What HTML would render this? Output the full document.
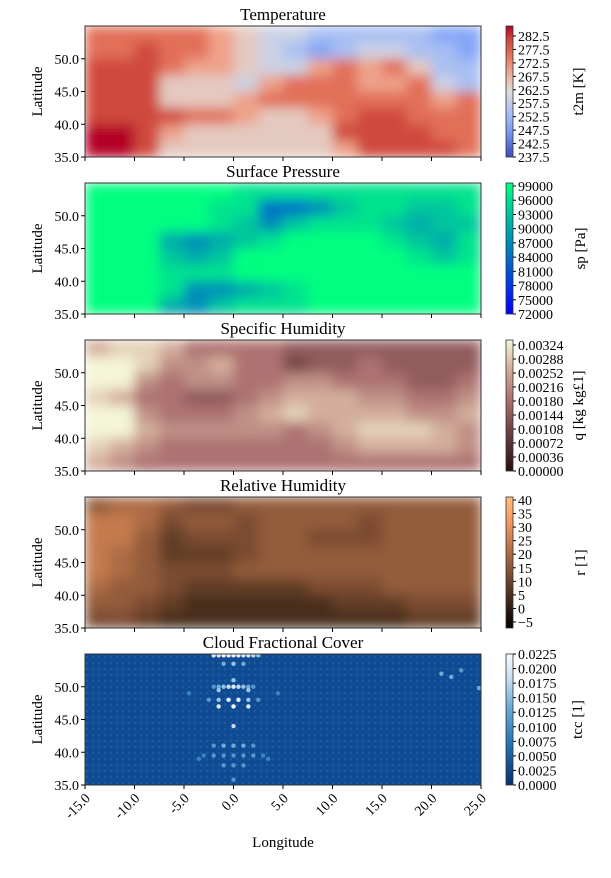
<!DOCTYPE html>
<html><head><meta charset="utf-8"><style>
body{margin:0;background:#fff;}
svg text{font-family:"Liberation Serif",serif;fill:#000;}
</style></head><body>
<svg id="fig" width="611" height="873" viewBox="0 0 611 873">
<defs>
<filter id="blur" x="0" y="0" width="1" height="1"><feGaussianBlur stdDeviation="6" edgeMode="duplicate"/></filter>
<pattern id="dots" width="6" height="6" patternUnits="userSpaceOnUse"><circle cx="3" cy="3" r="1.4" fill="#2a68ad" opacity="0.5"/></pattern>
</defs>
</svg>
<script>
// ---- data ----
const lonTicks=[-15,-10,-5,0,5,10,15,20,25];
const latTicks=[35,40,45,50];
const titles=["Temperature","Surface Pressure","Specific Humidity","Relative Humidity","Cloud Fractional Cover"];
const cbarLabels=["t2m [K]","sp [Pa]","q [kg kg\u00a31]","r [1]","tcc [1]"];
const tTicks=["282.5","277.5","272.5","267.5","262.5","257.5","252.5","247.5","242.5","237.5"];
const spTicks=["99000","96000","93000","90000","87000","84000","81000","78000","75000","72000"];
const qTicks=["0.00324","0.00288","0.00252","0.00216","0.00180","0.00144","0.00108","0.00072","0.00036","0.00000"];
const rTicks=["40","35","30","25","20","15","10","5","0","\u22125"];
const tccTicks=["0.0225","0.0200","0.0175","0.0150","0.0125","0.0100","0.0075","0.0050","0.0025","0.0000"];
const tGrid=[
[7,7,7,7,7,6,5,4,4,3,3,3,3,3,2,2],
[7,7,8,7,7,6,5,4,3,2,3,4,4,3,3,2],
[8,8,8,7,6,6,5,4,4,6,7,6,7,5,3,3],
[8,8,8,5,5,5,4,6,7,7,7,6,6,7,4,3],
[8,8,8,5,5,5,6,7,7,7,7,7,7,7,6,7],
[8,8,8,8,7,7,6,5,5,6,7,8,8,7,7,7],
[9,9,8,6,5,5,5,5,5,5,8,8,8,8,7,7],
[9,9,8,5,5,5,5,5,5,5,6,8,8,8,8,7]];
const spGrid=[
[9,9,9,9,9,9,8,8,8,8,8,8,8,8,8,8],
[9,9,9,9,9,8,8,4,4,5,7,8,8,7,7,8],
[9,9,9,9,9,8,7,5,7,8,8,8,7,6,7,7],
[9,9,9,6,5,6,7,8,9,9,9,9,8,7,6,8],
[9,9,9,7,6,7,9,9,9,9,9,9,9,8,7,8],
[9,9,9,8,8,8,9,9,9,9,9,9,9,9,9,9],
[9,9,9,8,5,5,6,7,8,9,9,9,9,9,9,9],
[9,9,9,6,5,7,8,8,8,9,9,9,9,9,9,9]];
const qGrid=[
[7,8,8,7,5,5,5,5,4,4,4,4,4,4,4,4],
[9,9,8,6,6,7,5,5,3,4,4,5,4,4,4,4],
[9,9,6,5,6,6,5,5,6,6,5,5,5,4,4,5],
[8,7,5,5,4,4,5,6,7,7,7,6,6,5,5,6],
[9,9,6,5,5,5,6,7,8,7,7,7,7,6,6,7],
[9,9,7,6,6,6,6,6,5,6,7,8,8,8,7,6],
[8,7,6,5,5,5,5,5,5,5,6,7,7,7,7,6],
[7,6,5,5,5,5,5,5,5,5,5,5,5,5,5,5]];
const rGrid=[
[6,7,7,6,5,5,6,6,6,6,6,6,6,6,6,6],
[8,8,7,5,6,6,5,6,6,6,6,5,6,6,6,6],
[8,8,6,4,5,5,5,6,6,5,5,5,6,6,6,6],
[8,7,6,4,4,4,5,6,6,6,6,6,6,6,6,6],
[8,7,6,5,5,5,6,6,6,6,6,6,6,6,6,6],
[7,6,6,5,4,4,4,4,4,5,5,5,6,6,6,6],
[6,6,5,4,3,3,3,3,3,3,4,4,4,5,5,5],
[5,5,4,3,3,3,3,3,3,3,3,3,3,4,4,4]];
const cloudLon=[-2,-1.5,-1,-0.5,0,0.5,1,1.5,2,2.5,-1,0,1,-2,-1.5,-1,-0.5,0,0.5,1,1.5,2,-2.5,-1.5,-0.5,0.5,1.5,2.5,-1.5,0,1.5,0,-2,-1,0,1,2,-3,-2,-1,0,1,2,3,-1,0,1,0,-1.5,1.5,0,-4.5,4.5,-3.5,3.5,21,22,23,24.8];
const cloudLat=[54.8,54.8,54.8,54.8,54.8,54.8,54.8,54.8,54.8,54.8,53.5,53.5,53.5,50,50,50,50,50,50,50,50,50,48,48,48,48,48,48,47,47,47,44,41,41,41,41,41,39.5,39.5,39.5,39.5,39.5,39.5,39.5,38,38,38,35.8,49.5,49.5,51,49,49,39,39,52,51.5,52.5,49.8];
const cloudVal=[0.9,0.9,1,1,1,1,0.9,0.9,0.8,0.7,0.6,0.7,0.6,0.5,0.6,0.7,0.8,0.9,0.8,0.7,0.6,0.5,0.5,0.7,0.9,0.9,0.7,0.5,0.9,1,0.9,0.8,0.5,0.6,0.6,0.6,0.5,0.4,0.5,0.5,0.5,0.5,0.5,0.4,0.5,0.5,0.5,0.5,0.7,0.7,0.7,0.4,0.4,0.4,0.4,0.6,0.6,0.5,0.6];

// ---- layout ----
const X0=85,X1=481,PH=131;
const panelTops=[26,183,340,497,654];
const CBX=506,CBW=7;
const svg=document.getElementById('fig');
const NS='http://www.w3.org/2000/svg';
function mk(tag,attrs,parent){const e=document.createElementNS(NS,tag);for(const k in attrs)e.setAttribute(k,attrs[k]);(parent||svg).appendChild(e);return e;}
const xScale=lon=>X0+(lon+15)/40*(X1-X0);
const yScale=(lat,top)=>top+PH-(lat-35)/20*PH;

function lerpStops(stops,t){t=Math.max(0,Math.min(1,t));for(let i=1;i<stops.length;i++){if(t<=stops[i][0]){const a=stops[i-1],b=stops[i],f=(t-a[0])/(b[0]-a[0]);return 'rgb('+[1,2,3].map(j=>Math.round(a[j]+(b[j]-a[j])*f)).join(',')+')';}}const s=stops[stops.length-1];return 'rgb('+s[1]+','+s[2]+','+s[3]+')';}
const cmaps=[
[[0,59,76,192],[0.25,141,176,254],[0.5,221,220,220],[0.65,240,170,145],[0.78,226,110,88],[0.9,205,70,58],[1,180,4,38]],
[[0,0,0,255],[1,0,255,128]],
[[0,40,15,15],[0.3,110,65,65],[0.55,172,112,112],[0.8,215,180,160],[1,245,245,215]],
[[0,0,0,0],[0.8,255,159,102],[1,255,199,127]],
[[0,8,48,107],[0.3,33,113,181],[0.6,107,174,214],[0.8,198,219,239],[1,247,251,255]]];
const cmapScale=[9,9,9,13,1];
const grids=[tGrid,spGrid,qGrid,rGrid];
const tickSets=[tTicks,spTicks,qTicks,rTicks,tccTicks];

panelTops.forEach((top,p)=>{
  const clip=mk('clipPath',{id:'clip'+p},svg.querySelector('defs'));
  mk('rect',{x:X0,y:top,width:X1-X0,height:PH},clip);
  const g=mk('g',{'clip-path':'url(#clip'+p+')'});
  
  
  if(p<4){
    const grid=grids[p];
    const bg=mk('g',{filter:'url(#blur)'},g);
    const cw=(X1-X0)/grid[0].length,ch=PH/grid.length;
    grid.forEach((row,r)=>row.forEach((v,c)=>{
      const cell=mk('rect',{x:X0+c*cw,y:top+r*ch,width:cw+0.5,height:ch+0.5,fill:lerpStops(cmaps[p],v/cmapScale[p])},bg);
      
      
    }));
  } else {
    mk('rect',{x:X0,y:top,width:X1-X0,height:PH,fill:'#0f4a92'},g);
    mk('rect',{x:X0,y:top,width:X1-X0,height:PH,fill:'url(#dots)'},g);
    cloudLon.forEach((lon,i)=>{
      const d=mk('circle',{cx:xScale(lon),cy:yScale(cloudLat[i],top),r:2.2,fill:lerpStops(cmaps[4],cloudVal[i])},g);
      
      
    });
  }
  const frame=mk('rect',{x:X0,y:top,width:X1-X0,height:PH,fill:'none',stroke:'#333','stroke-width':1});
  
  
  const t=mk('text',{x:(X0+X1)/2,y:top-6,'text-anchor':'middle','font-size':17});
  t.textContent=titles[p];
  
  
  const yl=mk('text',{x:0,y:0,'text-anchor':'middle','font-size':15,transform:'translate(42,'+(top+PH/2)+') rotate(-90)'});
  yl.textContent='Latitude';
  
  
  latTicks.forEach(lat=>{
    const y=yScale(lat,top);
    mk('line',{x1:X0-4,x2:X0,y1:y,y2:y,stroke:'#000'});
    const tl=mk('text',{x:X0-6,y:y+5,'text-anchor':'end','font-size':14});
    tl.textContent=lat.toFixed(1);
    
    
  });
  lonTicks.forEach(lon=>{
    const x=xScale(lon);
    mk('line',{x1:x,x2:x,y1:top+PH,y2:top+PH+4,stroke:'#000'});
    if(p===4){
      const xl=mk('text',{x:0,y:0,'text-anchor':'end','font-size':14,transform:'translate('+(x+6)+','+(top+PH+14)+') rotate(-45)'});
      xl.textContent=lon.toFixed(1);
      
      
    }
  });
  // colorbar
  const gid='cg'+p;
  const lg=mk('linearGradient',{id:gid,x1:0,y1:1,x2:0,y2:0},svg.querySelector('defs'));
  for(let i=0;i<=10;i++)mk('stop',{offset:i/10,'stop-color':lerpStops(cmaps[p],p===3?i/10*0.95:i/10)},lg);
  const cb=mk('rect',{x:CBX,y:top,width:CBW,height:PH,fill:'url(#'+gid+')',stroke:'#333','stroke-width':0.8});
  
  
  const ticks=tickSets[p];
  let y0=top+10,y1=top+PH;
  if(p===1)y0=top+3;
  if(p===2)y0=top+5;
  if(p===3){y0=top+3;y1=top+PH-6;}
  if(p===4)y0=top;
  ticks.forEach((lab,i)=>{
    const y=y0+(y1-y0)*i/(ticks.length-1);
    mk('line',{x1:CBX+CBW,x2:CBX+CBW+3,y1:y,y2:y,stroke:'#000'});
    const tl=mk('text',{x:CBX+CBW+5,y:y+5,'font-size':14});
    tl.textContent=lab;
    
    
  });
  const cl=mk('text',{x:0,y:0,'text-anchor':'middle','font-size':15,transform:'translate('+(p===2||p===0?583:p===4?582:585)+','+(top+PH/2)+') rotate(-90)'});
  cl.textContent=cbarLabels[p];
  
  
});
const xt=mk('text',{x:(X0+X1)/2,y:847,'text-anchor':'middle','font-size':15});
xt.textContent='Longitude';


</script>
</body></html>
